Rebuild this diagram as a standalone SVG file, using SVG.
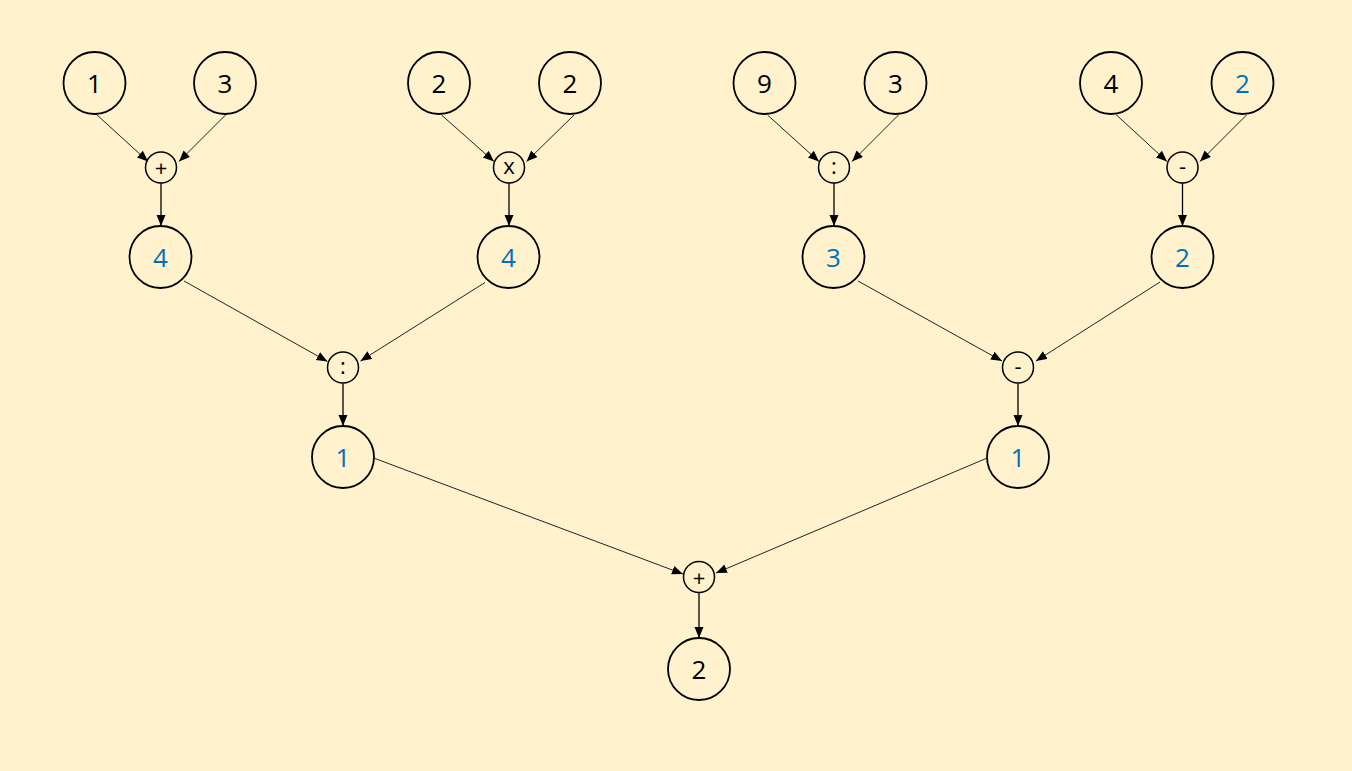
<svg xmlns="http://www.w3.org/2000/svg" width="1352" height="771" viewBox="0 0 1352 771">
<style>
.bg{fill:#FFF2CC}
.n{fill:none;stroke:#000;stroke-width:1.8}
.o{fill:none;stroke:#000;stroke-width:1.5}
.e{stroke:#222;stroke-width:1;fill:none}
.v{stroke:#000;stroke-width:1.3;fill:none}
.t{font-family:"Open Sans","Liberation Sans",sans-serif;font-size:26px;text-anchor:middle;fill:#000}
.b{fill:#0070C0}
.ot{font-family:"Open Sans","Liberation Sans",sans-serif;font-size:22px;text-anchor:middle;fill:#000}
</style>
<defs>
<marker id="ah" markerUnits="userSpaceOnUse" markerWidth="12" markerHeight="10" refX="11" refY="4.5" orient="auto">
<path d="M0,0 L11,4.5 L0,9 z" fill="#000"/>
</marker>
</defs>
<rect class="bg" x="0" y="0" width="1352" height="771"/>
<g id="connectors">
<line class="e" x1="96" y1="114" x2="148" y2="161.5" marker-end="url(#ah)"/>
<line class="e" x1="225.5" y1="115" x2="179" y2="161.5" marker-end="url(#ah)"/>
<line class="e" x1="441.5" y1="115" x2="494" y2="161.5" marker-end="url(#ah)"/>
<line class="e" x1="574" y1="115" x2="526.5" y2="161.5" marker-end="url(#ah)"/>
<line class="e" x1="767.5" y1="115" x2="819" y2="161.5" marker-end="url(#ah)"/>
<line class="e" x1="898.5" y1="115" x2="852" y2="161.5" marker-end="url(#ah)"/>
<line class="e" x1="1116" y1="114.5" x2="1167" y2="161.5" marker-end="url(#ah)"/>
<line class="e" x1="1246.5" y1="115" x2="1200" y2="161.5" marker-end="url(#ah)"/>
<line class="v" x1="161" y1="183" x2="161" y2="226" marker-end="url(#ah)"/>
<line class="v" x1="509" y1="183" x2="509" y2="226" marker-end="url(#ah)"/>
<line class="v" x1="834" y1="183" x2="834" y2="226" marker-end="url(#ah)"/>
<line class="v" x1="1182.5" y1="183" x2="1182.5" y2="226" marker-end="url(#ah)"/>
<line class="e" x1="184" y1="281" x2="327.5" y2="361.5" marker-end="url(#ah)"/>
<line class="e" x1="485" y1="282.5" x2="360.5" y2="361" marker-end="url(#ah)"/>
<line class="e" x1="858" y1="281" x2="1002" y2="361" marker-end="url(#ah)"/>
<line class="e" x1="1160" y1="282" x2="1036" y2="361" marker-end="url(#ah)"/>
<line class="v" x1="343" y1="383.5" x2="343" y2="426" marker-end="url(#ah)"/>
<line class="v" x1="1018" y1="383.5" x2="1018" y2="426" marker-end="url(#ah)"/>
<line class="e" x1="375" y1="458.5" x2="683" y2="574" marker-end="url(#ah)"/>
<line class="e" x1="986" y1="458.5" x2="716" y2="573" marker-end="url(#ah)"/>
<line class="v" x1="699" y1="593" x2="699" y2="638" marker-end="url(#ah)"/>
</g>
<g id="n1"><circle class="n" cx="94.5" cy="83" r="31"/><text class="t" x="94.5" y="93">1</text></g>
<g id="n2"><circle class="n" cx="225" cy="83" r="31"/><text class="t" x="225" y="93">3</text></g>
<g id="n3"><circle class="n" cx="439" cy="83" r="31"/><text class="t" x="439" y="93">2</text></g>
<g id="n4"><circle class="n" cx="570" cy="83" r="31"/><text class="t" x="570" y="93">2</text></g>
<g id="n5"><circle class="n" cx="764.5" cy="83" r="31"/><text class="t" x="764.5" y="93">9</text></g>
<g id="n6"><circle class="n" cx="895.5" cy="83" r="31"/><text class="t" x="895.5" y="93">3</text></g>
<g id="n7"><circle class="n" cx="1111" cy="83" r="31"/><text class="t" x="1111" y="93">4</text></g>
<g id="n8"><circle class="n" cx="1242.5" cy="83" r="31"/><text class="t b" x="1242.5" y="93">2</text></g>
<g id="op1"><circle class="o" cx="161" cy="167.5" r="15.5"/><text class="ot" x="161" y="176">+</text></g>
<g id="op2"><circle class="o" cx="509" cy="167.5" r="15.5"/><text class="ot" x="509" y="174">x</text></g>
<g id="op3"><circle class="o" cx="834" cy="167.5" r="15.5"/><text class="ot" x="834" y="174">:</text></g>
<g id="op4"><circle class="o" cx="1182.5" cy="167.5" r="15.5"/><text class="ot" x="1182.5" y="174">-</text></g>
<g id="m1"><circle class="n" cx="160.5" cy="257" r="31"/><text class="t b" x="160.5" y="267">4</text></g>
<g id="m2"><circle class="n" cx="508.5" cy="257" r="31"/><text class="t b" x="508.5" y="267">4</text></g>
<g id="m3"><circle class="n" cx="833.5" cy="257" r="31"/><text class="t b" x="833.5" y="267">3</text></g>
<g id="m4"><circle class="n" cx="1182.5" cy="257" r="31"/><text class="t b" x="1182.5" y="267">2</text></g>
<g id="op5"><circle class="o" cx="343" cy="367.5" r="15.5"/><text class="ot" x="343" y="374">:</text></g>
<g id="op6"><circle class="o" cx="1018" cy="367.5" r="15.5"/><text class="ot" x="1018" y="374">-</text></g>
<g id="r1"><circle class="n" cx="343" cy="457" r="31"/><text class="t b" x="343" y="467">1</text></g>
<g id="r2"><circle class="n" cx="1018" cy="457" r="31"/><text class="t b" x="1018" y="467">1</text></g>
<g id="op7"><circle class="o" cx="699" cy="577" r="15.5"/><text class="ot" x="699" y="585.5">+</text></g>
<g id="fin"><circle class="n" cx="699" cy="669" r="31"/><text class="t" x="699" y="679">2</text></g>
</svg>
